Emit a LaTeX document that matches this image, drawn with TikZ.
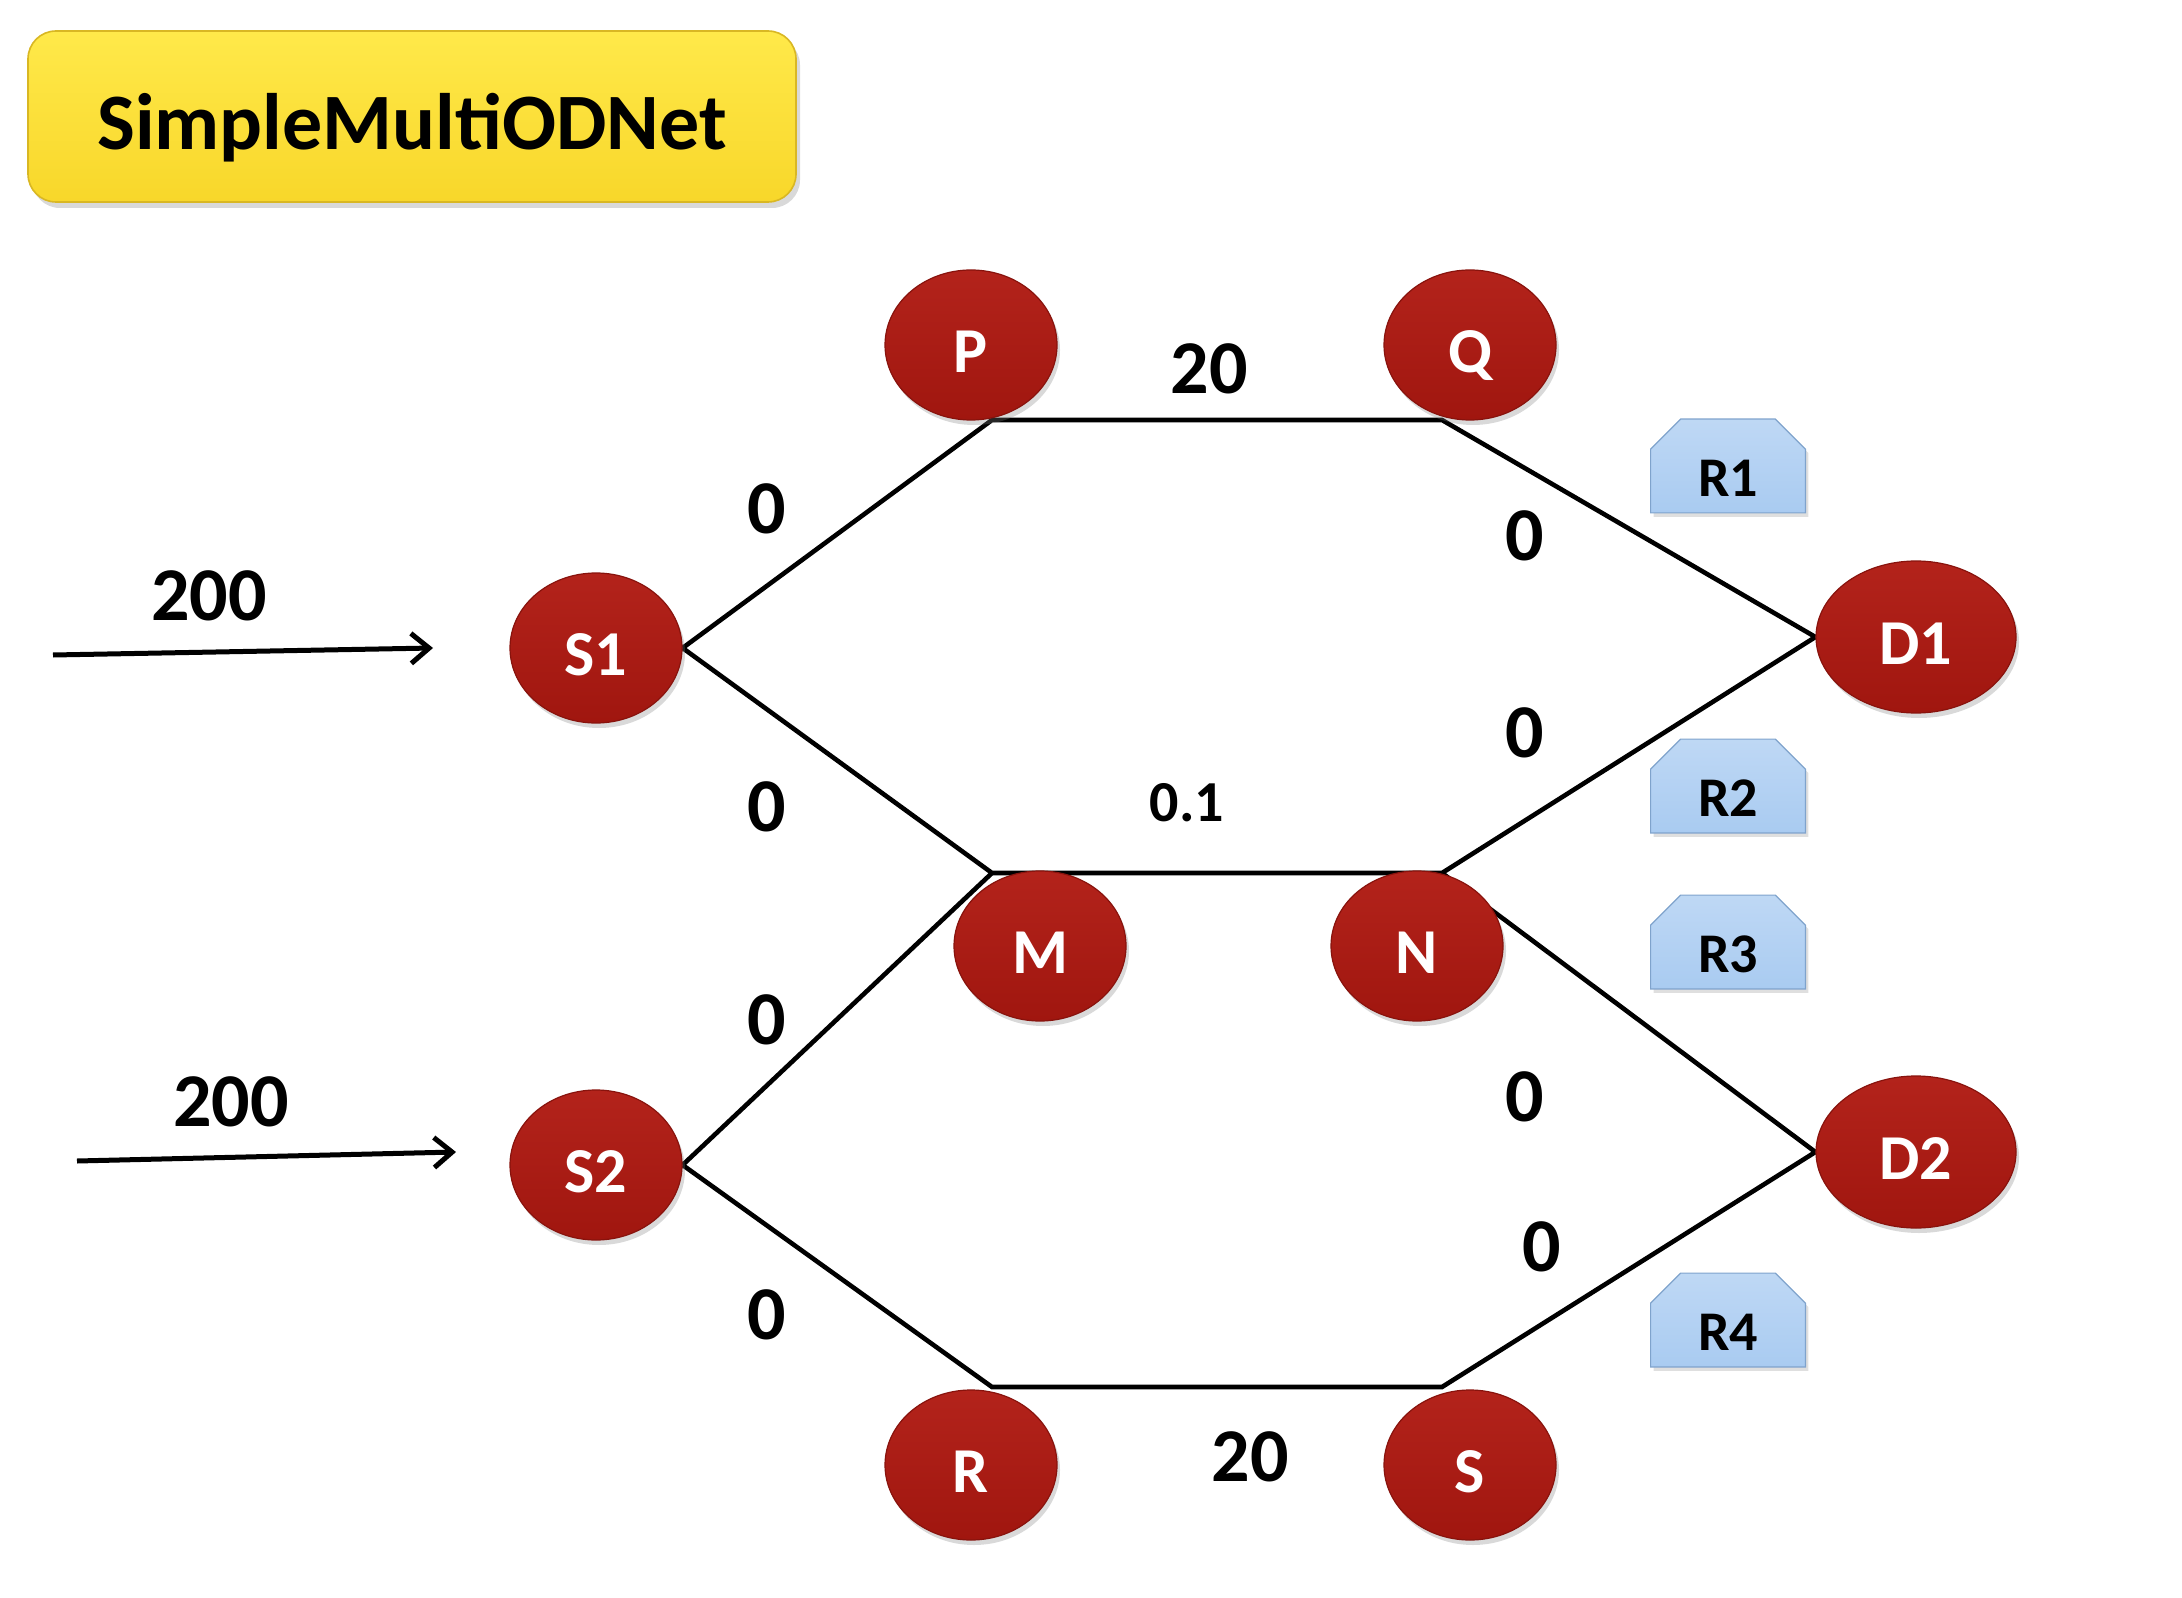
\documentclass[tikz,border=0pt]{standalone}
\usepackage{fontspec}
\setmainfont{Carlito}
\usetikzlibrary{arrows.meta,shapes.geometric,shadows}
\definecolor{nodered}{HTML}{A0160F}
\definecolor{noderedtop}{HTML}{B3231B}
\definecolor{titletop}{HTML}{FFE94A}
\definecolor{titlebot}{HTML}{F8D72A}
\definecolor{titleline}{HTML}{D9B723}
\definecolor{boxblue}{HTML}{A9CBF1}
\definecolor{boxline}{HTML}{7FA3CC}
\pgfdeclarelayer{bg}
\pgfdeclarelayer{boxes}
\pgfsetlayers{bg,boxes,main}
\begin{document}
\begin{tikzpicture}[x=0.5pt,y=-0.5pt,
  city/.style={ellipse, top color=noderedtop, bottom color=nodered, draw=nodered!85!black, line width=0.6pt,
    minimum width=86pt, minimum height=75pt, inner sep=0pt, text=white,
    text height=27.6pt, text depth=0pt,
    font=\fontsize{32}{34}\selectfont\bfseries,
    drop shadow={shadow xshift=1.5pt,shadow yshift=-2.5pt,opacity=0.3}},
  dest/.style={city, minimum width=100pt, minimum height=76pt},
  link/.style={line width=2.3pt, line join=miter},
  cost/.style={font=\fontsize{38}{40}\selectfont\bfseries, inner sep=0pt},
  smallcost/.style={font=\fontsize{29}{31}\selectfont\bfseries, inner sep=0pt},
  demand/.style={line width=2.5pt, -{Straight Barb[length=9pt,width=15pt,line width=2.5pt]}},
  route/.style={rectangle, minimum width=77pt, minimum height=46.5pt, inner sep=0pt,
    text height=30.6pt, text depth=0pt,
    font=\fontsize{28}{30}\selectfont\bfseries},
  routeshape/.style={top color=boxblue!75!white, bottom color=boxblue, draw=boxline, line width=0.6pt,
    drop shadow={shadow xshift=1.5pt,shadow yshift=-2pt,opacity=0.25}},
  titlebox/.style={rounded corners=14pt, top color=titletop, bottom color=titlebot, draw=titleline,
    line width=0.8pt, minimum width=384pt, minimum height=85.5pt,
    drop shadow={shadow xshift=2pt,shadow yshift=-3pt,opacity=0.3}},
]
\useasboundingbox (0,0) rectangle (2182,1598);

% title
\node[titlebox] (titlebg) at (412,116.5) {};
\node[anchor=base, inner sep=0pt, font=\fontsize{40}{42}\selectfont\bfseries] (title) at (412,150) {SimpleMultiODNet};

% city nodes
\node[city] (P) at (971,345) {P};
\node[city] (Q) at (1470,345) {Q};
\node[city] (S1) at (596,648) {S1};
\node[dest] (D1) at (1916,637) {D1};
\node[city] (M) at (1040,946) {M};
\node[city] (N) at (1417,946) {N};
\node[city] (S2) at (596,1165) {S2};
\node[dest] (D2) at (1916,1152) {D2};
\node[city] (R) at (971,1465) {R};
\node[city] (S) at (1470,1465) {S};

% joints
\coordinate (jP) at (992,420);
\coordinate (jQ) at (1442,420);
\coordinate (jM) at (992,873);
\coordinate (jN) at (1442,873);
\coordinate (jR) at (992,1387);
\coordinate (jS) at (1442,1387);

\begin{pgfonlayer}{bg}
\draw[link] (S1.east) -- (jP) -- (jQ) -- (D1.west);
\draw[link] (S1.east) -- (jM) -- (jN) -- (D1.west);
\draw[link] (S2.east) -- (jM);
\draw[link] (jN) -- (D2.west);
\draw[link] (S2.east) -- (jR) -- (jS) -- (D2.west);
\end{pgfonlayer}

% demand arrows
\coordinate (a1s) at (53,655);
\coordinate (a1e) at (433,648);
\coordinate (a2s) at (77,1161);
\coordinate (a2e) at (456,1152);
\draw[demand] (a1s) -- (a1e);
\draw[demand] (a2s) -- (a2e);
\node[cost] (dem1) at (209,596) {200};
\node[cost] (dem2) at (231,1102) {200};

% cost labels
\node[cost] (cSP) at (767,509) {0};
\node[cost] (cSM) at (767,807) {0};
\node[cost] (cS2M) at (767,1020) {0};
\node[cost] (cS2R) at (767,1315) {0};
\node[cost] (cQD) at (1525,536) {0};
\node[cost] (cND1) at (1525,733) {0};
\node[cost] (cND2) at (1525,1097) {0};
\node[cost] (cSD) at (1542,1247) {0};
\node[cost] (cPQ) at (1209,369) {20};
\node[smallcost] (cMN) at (1187,803) {0.1};
\node[cost] (cRS) at (1250,1457) {20};

% route boxes
\foreach \r/\y in {R1/466,R2/786,R3/942,R4/1320}{
  \node[route] (\r) at (1728,\y) {\r};
  \begin{pgfonlayer}{boxes}
  \path[routeshape] (\r.south west) -- (\r.south east) -- ([yshift=-15pt]\r.north east)
    -- ([xshift=-15pt]\r.north east) -- ([xshift=15pt]\r.north west)
    -- ([yshift=-15pt]\r.north west) -- cycle;
  \end{pgfonlayer}
}
\end{tikzpicture}
\end{document}
